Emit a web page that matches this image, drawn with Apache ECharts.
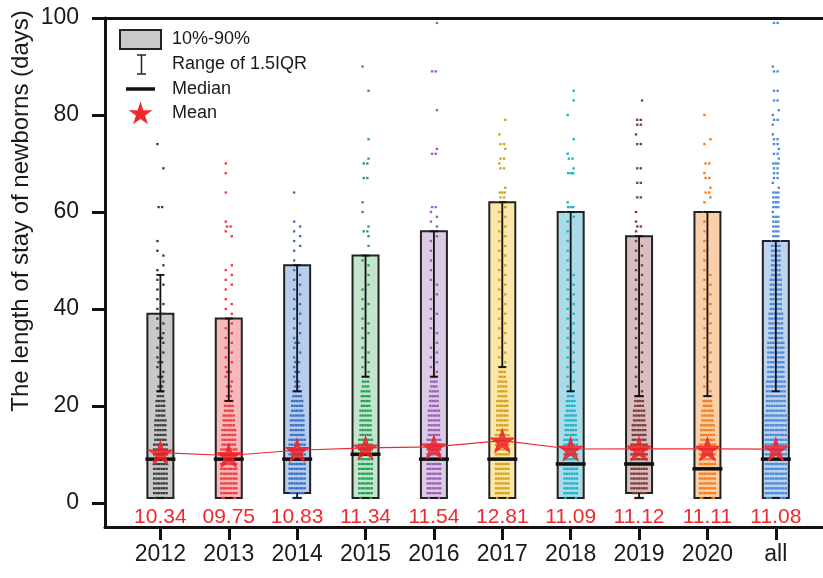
<!DOCTYPE html>
<html>
<head>
<meta charset="utf-8">
<script src="https://cdn.jsdelivr.net/npm/echarts@6/dist/echarts.min.js"></script>
<style>
  html, body { margin: 0; padding: 0; background: #fff; }
  #main { width: 823px; height: 578px; }
</style>
</head>
<body>
<div id="main"></div>
<script>
const categories = ['2012', '2013', '2014', '2015', '2016', '2017', '2018', '2019', '2020', 'all']
const p10 = [1, 1, 2, 1, 1, 1, 1, 2, 1, 1]
const p90 = [39, 38, 49, 51, 56, 62, 60, 55, 60, 54]
const medians = [9, 9, 9, 10, 9, 9, 8, 8, 7, 9]
const means = [10.34, 9.75, 10.83, 11.34, 11.54, 12.81, 11.09, 11.12, 11.11, 11.08]
const q3 = [23, 21, 23, 26, 26, 28, 23, 22, 22, 23]
const whiskerHigh = [47, 38, 49, 51, 56, 62, 60, 55, 60, 54]
const whiskerLow = [1, 1, 1, 1, 1, 1, 1, 1, 1, 1]
const yTicks = [0, 20, 40, 60, 80, 100]

// dots per day (dense rows, starting at day 1) and single points above them
const rows2012 = [5,6,6,6,6,6,6,6,6,6,6,6,5,5,5,5,5,4,4,4,4,3,3]
const sparse2012 = [24,24,25,26,26,27,28,29,29,30,31,32,33,34,34,35,36,37,38,39,40,41,42,44,45,46,48,49,51,52,54,61,61,69,74]
const rows2013 = [6,7,7,7,7,7,7,7,7,7,7,6,6,6,6,5,5,5,4,4,4]
const sparse2013 = [22,22,23,24,24,25,26,27,27,28,29,30,31,32,33,34,35,36,37,38,39,40,41,42,44,45,46,47,48,49,55,56,57,57,58,64,68,70]
const rows2014 = [4,6,7,7,7,7,7,7,7,7,7,7,7,6,6,6,6,6,5,5,5,4,4]
const sparse2014 = [24,24,25,25,26,27,27,28,29,29,30,31,32,33,33,34,35,36,37,38,39,40,41,42,43,44,45,46,47,48,50,52,53,54,55,56,57,58,64]
const rows2015 = [5,6,6,6,6,6,6,6,6,6,6,6,6,5,5,5,5,5,5,4,4,4,4,3,3,3]
const sparse2015 = [27,28,29,30,31,32,34,35,36,37,38,40,41,42,44,45,47,49,50,53,55,56,56,57,60,62,67,67,70,70,71,75,85,90]
const rows2016 = [5,6,6,6,6,6,6,6,6,6,6,6,6,5,5,5,5,5,5,4,4,4,4,3,3,3]
const sparse2016 = [27,28,29,30,31,32,33,35,36,38,39,40,42,43,45,46,48,50,52,54,55,57,58,59,60,61,61,72,72,73,81,89,89,99]
const rows2017 = [5,6,6,6,6,6,6,6,6,6,6,6,6,6,5,5,5,5,5,5,5,4,4,4,4,3,3,3]
const sparse2017 = [29,30,31,32,33,34,35,36,37,38,39,40,41,42,43,44,45,46,47,48,49,50,51,52,53,54,55,56,57,58,59,60,61,62,63,63,64,64,64,65,69,69,70,71,71,73,74,74,76,79]
const rows2018 = [5,6,6,6,6,6,6,6,6,6,6,6,6,5,5,5,5,5,4,4,4,3,3]
const sparse2018 = [24,25,26,27,28,29,30,31,32,33,34,35,36,37,38,39,40,41,42,43,44,45,46,47,48,50,52,54,56,58,59,60,61,61,61,62,68,68,68,69,71,71,72,75,80,83,85]
const rows2019 = [4,6,7,7,7,7,7,7,7,7,7,7,6,6,6,6,5,5,5,4,4,4]
const sparse2019 = [23,24,25,26,27,28,29,30,31,32,33,34,35,36,37,38,39,40,41,42,43,44,45,46,47,48,49,50,51,52,53,54,56,57,57,58,60,63,63,66,66,69,69,74,74,76,78,78,79,79,83]
const rows2020 = [6,7,7,7,7,7,7,7,7,7,7,7,6,6,6,6,5,5,5,4,4,4]
const sparse2020 = [23,24,25,26,27,28,29,30,31,32,33,34,35,36,37,38,39,40,41,42,43,44,45,46,47,48,50,52,54,56,58,60,62,63,64,64,65,67,67,68,70,70,74,75,80]
const rowsAll = [8,9,9,9,9,9,9,9,9,9,9,9,9,9,9,9,9,9,8,8,8,8,8,8,8,7,7,7,7,7,7,7,7,6,6,6,6,6,6,5,5,5,5,5,5,5,4,4,4,4,4,4,4,4]
const sparseAll = [55,55,55,56,56,56,57,57,57,58,58,58,59,59,59,60,61,61,61,62,62,62,63,63,63,64,64,64,65,66,67,67,68,68,69,69,70,70,70,71,72,72,73,74,74,75,75,76,78,79,79,80,81,83,83,85,85,89,89,90,99,99]

const allRows = [rows2012, rows2013, rows2014, rows2015, rows2016, rows2017, rows2018, rows2019, rows2020, rowsAll]
const allSparse = [sparse2012, sparse2013, sparse2014, sparse2015, sparse2016, sparse2017, sparse2018, sparse2019, sparse2020, sparseAll]

const boxFill = ['#c9c9c9', '#f7b9bb', '#b8cdec', '#c5e4cd', '#dccbe4', '#fce7a8', '#abdbe8', '#d8bebe', '#fad0ab', '#bed3ee']
const dotColor = ['#3d3d3d', '#ef3b40', '#3a70c6', '#25a255', '#9a5db8', '#d3a020', '#1db3c6', '#7b3b3b', '#f47b1c', '#4c89d6']
const red = '#ee2a2f'
const font = '"Liberation Sans", Arial, sans-serif'
const starPts = [[50,0],[61.8,36.2],[100,36.2],[69.1,58.8],[80.9,95.1],[50,72.7],[19.1,95.1],[30.9,58.8],[0,36.2],[38.2,36.2]]
const star = 'M' + starPts.map(p => p.join(' ')).join(' L') + ' Z'

// dot rows: [category index, day, number of dots]
let dotData = []
allRows.forEach((rows, i) => {
  let counts = {}
  rows.forEach((c, d) => { counts[d + 1] = c })
  allSparse[i].forEach(v => { counts[v] = (counts[v] || 0) + 1 })
  Object.keys(counts).forEach(d => dotData.push([i, +d, counts[d]]))
})

var chart = echarts.init(document.getElementById('main'))

const xRange = { min: -0.81, max: 9.69 }

let option = {
  animation: false,
  grid: { left: 105, right: 0, top: 18, bottom: 51 },
  xAxis: [{
    type: 'value', ...xRange,
    axisLine: { show: true, onZero: false, lineStyle: { color: '#111', width: 3 } },
    axisTick: { show: true, customValues: categories.map((c, i) => i), length: 13, lineStyle: { color: '#111', width: 3 } },
    axisLabel: {
      customValues: categories.map((c, i) => i), formatter: v => categories[Math.round(v)],
      margin: 16, fontSize: 23, color: '#1a1a1a', fontFamily: font
    },
    splitLine: { show: false }
  }, {
    type: 'value', position: 'top', ...xRange,
    axisLine: { show: true, onZero: false, lineStyle: { color: '#111', width: 3 } },
    axisTick: { show: false }, axisLabel: { show: false }, splitLine: { show: false }
  }],
  yAxis: {
    type: 'value', min: -5, max: 100,
    axisLine: { show: true, onZero: false, lineStyle: { color: '#111', width: 3 } },
    axisTick: { show: true, customValues: yTicks, length: 13, lineStyle: { color: '#111', width: 3 } },
    axisLabel: { customValues: yTicks, margin: 26, fontSize: 23, color: '#1a1a1a', fontFamily: font },
    splitLine: { show: false }
  },
  graphic: [
    {
      type: 'text', x: 21, y: 211, rotation: Math.PI / 2,
      style: { text: 'The length of stay of newborns (days)', fill: '#1a1a1a', font: `24px ${font}`, align: 'center', verticalAlign: 'middle' }
    },
    { type: 'rect', shape: { x: 120, y: 30, width: 41, height: 19 }, style: { fill: '#c9c9c9', stroke: '#222', lineWidth: 2 } },
    { type: 'line', shape: { x1: 141.5, y1: 55, x2: 141.5, y2: 74 }, style: { stroke: '#222', lineWidth: 1.5 } },
    { type: 'line', shape: { x1: 137, y1: 55, x2: 146, y2: 55 }, style: { stroke: '#222', lineWidth: 1.5 } },
    { type: 'line', shape: { x1: 137, y1: 74, x2: 146, y2: 74 }, style: { stroke: '#222', lineWidth: 1.5 } },
    { type: 'line', shape: { x1: 126, y1: 89, x2: 155, y2: 89 }, style: { stroke: '#111', lineWidth: 3.5 } },
    { type: 'polygon', shape: { points: starPts.map(p => [128.5 + p[0] * 0.24, 101.5 + p[1] * 0.24]) }, style: { fill: red } },
    ...['10%-90%', 'Range of 1.5IQR', 'Median', 'Mean'].map((t, k) => ({
      type: 'text', x: 172, y: [39, 64, 89, 113][k],
      style: { text: t, fill: '#1a1a1a', font: `18px ${font}`, verticalAlign: 'middle' }
    }))
  ],
  series: [
    {
      type: 'custom', z: 1,
      data: categories.map((c, i) => [i, p10[i], p90[i]]),
      renderItem: (params, api) => {
        let i = api.value(0)
        let lo = api.coord([i, api.value(1)])
        let hi = api.coord([i, api.value(2)])
        return {
          type: 'rect',
          shape: { x: lo[0] - 13, y: hi[1], width: 26, height: lo[1] - hi[1] },
          style: { fill: boxFill[i], stroke: '#222', lineWidth: 2 }
        }
      }
    },
    {
      type: 'custom', z: 2,
      data: dotData,
      renderItem: (params, api) => {
        let i = api.value(0)
        let day = api.value(1)
        let n = api.value(2)
        let c = api.coord([i, day])
        let step = n > 2 ? 2.5 : 3.6
        // lone dots sit just off the centre line, alternating side by day
        let shift = n === 1 ? (day % 2 ? 3 : -3) : 0
        let x0 = c[0] + shift - (n - 1) * step / 2
        let kids = []
        for (let k = 0; k < n; k++) {
          kids.push({
            type: 'rect',
            shape: { x: x0 + k * step - 1.2, y: c[1] - 1.1, width: 2.4, height: 2.3 },
            style: { fill: dotColor[i] }
          })
        }
        return { type: 'group', children: kids }
      }
    },
    {
      type: 'custom', z: 3,
      data: categories.map((c, i) => [i, q3[i], whiskerHigh[i], whiskerLow[i], p10[i]]),
      renderItem: (params, api) => {
        let i = api.value(0)
        let a = api.coord([i, api.value(1)])
        let b = api.coord([i, api.value(2)])
        let l = api.coord([i, api.value(3)])
        let p = api.coord([i, api.value(4)])
        let st = { stroke: '#111', lineWidth: 1.8 }
        return {
          type: 'group',
          children: [
            { type: 'line', shape: { x1: a[0], y1: a[1], x2: b[0], y2: b[1] }, style: st },
            { type: 'line', shape: { x1: a[0] - 4, y1: a[1], x2: a[0] + 4, y2: a[1] }, style: st },
            { type: 'line', shape: { x1: b[0] - 4, y1: b[1], x2: b[0] + 4, y2: b[1] }, style: st },
            { type: 'line', shape: { x1: l[0], y1: l[1], x2: p[0], y2: p[1] }, style: st },
            { type: 'line', shape: { x1: l[0] - 4, y1: l[1], x2: l[0] + 4, y2: l[1] }, style: st }
          ]
        }
      }
    },
    {
      type: 'custom', z: 4,
      data: categories.map((c, i) => [i, medians[i]]),
      renderItem: (params, api) => {
        let c = api.coord([api.value(0), api.value(1)])
        return {
          type: 'line',
          shape: { x1: c[0] - 15, y1: c[1], x2: c[0] + 15, y2: c[1] },
          style: { stroke: '#111', lineWidth: 3.5 }
        }
      }
    },
    {
      type: 'line', z: 5,
      data: categories.map((c, i) => [i, means[i]]),
      symbol: 'path://' + star, symbolSize: [24, 23],
      itemStyle: { color: 'rgba(238,30,36,0.8)', borderColor: red, borderWidth: 1 },
      lineStyle: { color: red, width: 1.2 }
    },
    {
      type: 'custom', z: 6,
      data: categories.map((c, i) => [i, means[i]]),
      renderItem: (params, api) => {
        let c = api.coord([api.value(0), 0])
        return {
          type: 'text', x: c[0], y: c[1] + 14,
          style: {
            text: api.value(1).toFixed(2).padStart(5, '0'),
            fill: red, font: `21px ${font}`, align: 'center', verticalAlign: 'middle'
          }
        }
      }
    }
  ]
}

chart.setOption(option)
</script>
</body>
</html>
